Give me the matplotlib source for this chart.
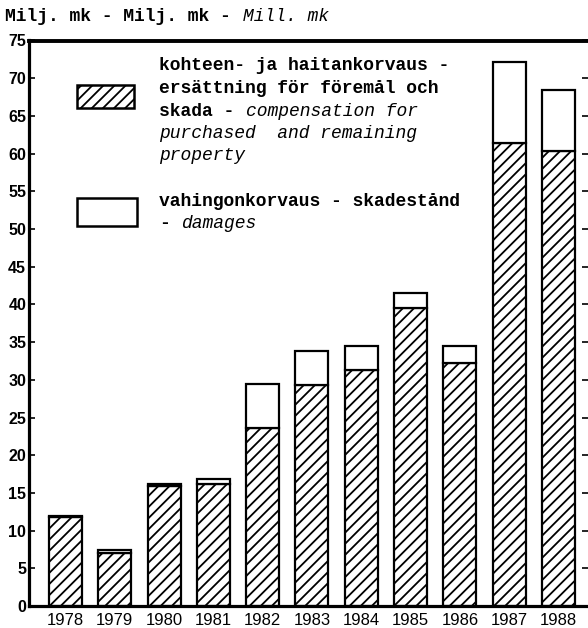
import matplotlib
matplotlib.use("Agg")
import matplotlib.pyplot as plt
from matplotlib.patches import Rectangle

years = ["1978", "1979", "1980", "1981", "1982", "1983", "1984", "1985", "1986", "1987", "1988"]
compensation = [11.8, 7.0, 15.9, 16.2, 23.6, 29.3, 31.3, 39.5, 32.2, 61.4, 60.4]
damages = [0.1, 0.4, 0.3, 0.7, 5.8, 4.5, 3.2, 2.0, 2.3, 10.7, 8.0]
yticks = list(range(0, 80, 5))

W, H = 588, 628
plt.rcParams['hatch.linewidth'] = 1.3
fig = plt.figure(figsize=(W / 100, H / 100), dpi=100)

def fx(px):
    return px / W

def fy(py):
    return 1 - py / H

ax = fig.add_axes([fx(29), fy(606), fx(588) - fx(29), fy(40.5) - fy(606)])
x = list(range(len(years)))
ax.bar(x, compensation, width=0.67, facecolor="white", edgecolor="black",
       hatch="///", linewidth=1.6)
ax.bar(x, damages, bottom=compensation, width=0.67, facecolor="white",
       edgecolor="black", linewidth=1.6)
ax.set_xlim(-0.74, 10.6)
ax.set_ylim(0, 75)
ax.set_yticks(yticks)
ax.set_yticklabels([str(v) for v in yticks], fontfamily=["Liberation Sans", "DejaVu Sans"],
                   fontweight="bold", fontsize=11.5)
ax.set_xticks(x)
ax.set_xticklabels(years, fontfamily=["Liberation Sans Narrow", "Liberation Sans"], fontsize=12)
ax.tick_params(axis="x", length=0, pad=5)
ax.tick_params(axis="y", direction="in", length=4, width=1.2, pad=2,
               right=True, left=True)
ax.spines["right"].set_visible(False)
for s in ["left", "bottom"]:
    ax.spines[s].set_linewidth(2.3)
ax.spines["top"].set_linewidth(2.8)

mono = ["Liberation Mono", "DejaVu Sans Mono"]
fs = 13
cw = 0.6 * fs * 100 / 72  # advance width of one monospace character, px

def seg(xpx, ypx, normal, ital):
    if normal:
        fig.text(fx(xpx), fy(ypx), normal.rstrip(), family=mono, fontsize=fs,
                 fontweight="bold", va="baseline", ha="left")
    if ital:
        fig.text(fx(xpx + cw * len(normal)), fy(ypx), ital, family=mono, fontsize=fs,
                 style="italic", va="baseline", ha="left")

# title
seg(5, 21, "Milj. mk - Milj. mk - ", "Mill. mk")

# legend keys
fig.patches.append(Rectangle((fx(77), fy(108)), fx(134) - fx(77), fy(85) - fy(108),
                             transform=fig.transFigure, facecolor="white",
                             edgecolor="black", hatch="///", linewidth=1.8))
fig.patches.append(Rectangle((fx(77), fy(226)), fx(137) - fx(77), fy(198) - fy(226),
                             transform=fig.transFigure, facecolor="white",
                             edgecolor="black", linewidth=1.8))

lines = [
    (70, "kohteen- ja haitankorvaus -", None),
    (93, "ersättning för föremål och", None),
    (116, "skada - ", "compensation for"),
    (138, "", "purchased  and remaining"),
    (160, "", "property"),
    (206, "vahingonkorvaus - skadestånd", None),
    (228, "- ", "damages"),
]
for yb, normal, ital in lines:
    seg(159, yb, normal, ital)

fig.savefig("out.png", dpi=100)
